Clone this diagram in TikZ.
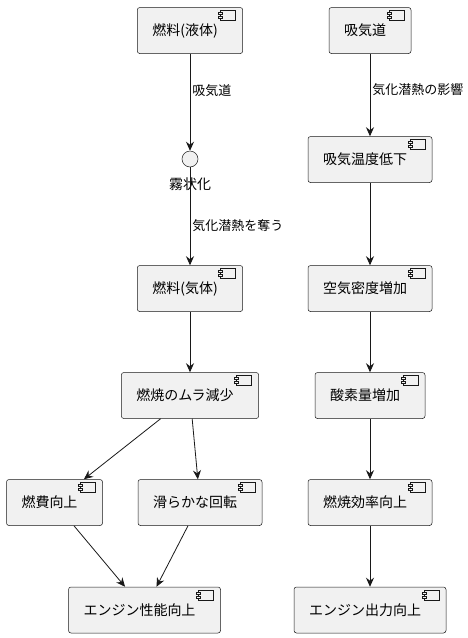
\documentclass[tikz,border=0pt]{standalone}
\usepackage{fontspec}
\setmainfont{Noto Sans CJK JP}
\usepackage{tikz}
\usetikzlibrary{arrows.meta}
\definecolor{boxfill}{HTML}{F1F1F1}
\definecolor{boxline}{HTML}{181818}
\tikzset{comp/.style={draw=boxline, fill=boxfill, rounded corners=2.5pt, line width=0.5pt,
    minimum height=46pt, inner xsep=15pt, font=\fontsize{14}{17}\selectfont,
    execute at end node={\hspace*{10pt}},
    path picture={
      \draw[boxline, fill=boxfill, sharp corners, line width=0.5pt]
        ([xshift=-22pt, yshift=-3pt]path picture bounding box.north east) rectangle ++(15pt,-10pt);
      \draw[boxline, fill=boxfill, sharp corners, line width=0.5pt]
        ([xshift=-24pt, yshift=-5pt]path picture bounding box.north east) rectangle ++(4pt,-2pt);
      \draw[boxline, fill=boxfill, sharp corners, line width=0.5pt]
        ([xshift=-24pt, yshift=-9pt]path picture bounding box.north east) rectangle ++(4pt,-2pt);
    }}}
\tikzset{mist/.style={circle, draw=boxline, fill=boxfill, minimum size=16pt, inner sep=0, line width=0.5pt}}
\tikzset{arr/.style={draw=boxline, line width=0.8pt, -{Stealth[length=9pt, width=8pt, inset=3pt]}}}
\tikzset{elabel/.style={right, inner sep=2pt, font=\fontsize{13}{15}\selectfont}}

\begin{document}
\begin{tikzpicture}[x=1pt, y=-1pt]
  \useasboundingbox (0,0) rectangle (468,638);

  % left column
  \node[comp] at (190, 30.5) (liq) {燃料(液体)};
  \node[mist] at (190, 159) (spray) {};
  \node[font=\fontsize{14}{17}\selectfont, inner sep=1pt] at (190, 184) (spraytext) {霧状化};
  \node[comp] at (190, 288.5) (gas) {燃料(気体)};
  \node[comp] at (190, 395.5) (even) {燃焼のムラ減少};
  \node[comp] at (54.5, 502.5) (mileage) {燃費向上};
  \node[comp] at (200, 502.5) (smooth) {滑らかな回転};
  \node[comp] at (144.5, 610) (perf) {エンジン性能向上};

  % right column
  \node[comp] at (370, 30.5) (intake) {吸気道};
  \node[comp] at (370, 159.5) (cool) {吸気温度低下};
  \node[comp] at (370, 288.5) (dense) {空気密度増加};
  \node[comp] at (370, 395.5) (oxygen) {酸素量増加};
  \node[comp] at (370, 502.5) (burn) {燃焼効率向上};
  \node[comp] at (370, 610) (power) {エンジン出力向上};

  \draw[arr] (liq) -- node[elabel, pos=0.38] {吸気道} (spray);
  \draw[arr] (spray) -- node[elabel, pos=0.6] {気化潜熱を奪う} (gas);
  \draw[arr] (gas) -- (even);
  \draw[arr] (even) -- (mileage);
  \draw[arr] (even) -- (smooth);
  \draw[arr] (mileage) -- (perf);
  \draw[arr] (smooth) -- (perf);

  \draw[arr] (intake) -- node[elabel, pos=0.44] {気化潜熱の影響} (cool);
  \draw[arr] (cool) -- (dense);
  \draw[arr] (dense) -- (oxygen);
  \draw[arr] (oxygen) -- (burn);
  \draw[arr] (burn) -- (power);
\end{tikzpicture}
\end{document}
